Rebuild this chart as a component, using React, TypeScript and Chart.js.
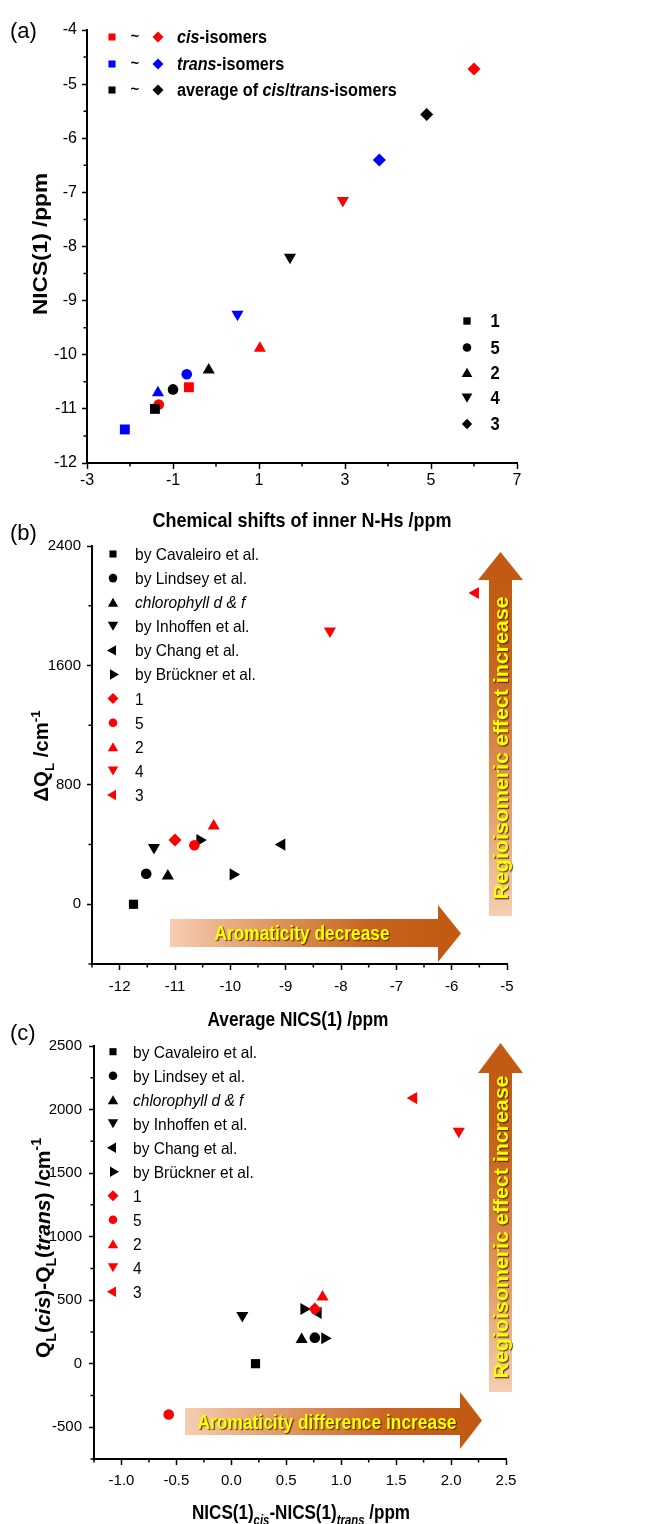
import React, { useEffect, useRef } from 'react';
import { Chart, registerables } from 'chart.js';

Chart.register(...registerables);

const FONT = '"Liberation Sans", Arial, Helvetica, sans-serif';
Chart.defaults.font.family = FONT;
Chart.defaults.color = '#000';
const W = 653;

// ---------------- Panel (a) data ----------------
const A_COMPOUNDS = ['1', '5', '2', '4', '3'];
const A_CIS_X = [-0.63, -1.33, 1.02, 2.95, 6.0];
const A_CIS_Y = [-10.6, -10.92, -9.88, -7.15, -4.72];
const A_TRANS_X = [-2.12, -0.68, -1.35, 0.5, 3.8];
const A_TRANS_Y = [-11.38, -10.36, -10.7, -9.25, -6.4];
const A_AVG_X = [-1.42, -1.0, -0.17, 1.72, 4.9];
const A_AVG_Y = [-11.0, -10.64, -10.28, -8.2, -5.56];
const A_X_TICKS = [-3, -1, 1, 3, 5, 7];
const A_X_MINOR = [-2, 0, 2, 4, 6];
const A_Y_TICKS = [-12, -11, -10, -9, -8, -7, -6, -5, -4];
const A_Y_MINOR = [-11.5, -10.5, -9.5, -8.5, -7.5, -6.5, -5.5, -4.5];

// ---------------- Panels (b) and (c) data ----------------
const GROUP_LABELS = [
  'by Cavaleiro et al.',
  'by Lindsey et al.',
  'chlorophyll d & f',
  'by Inhoffen et al.',
  'by Chang et al.',
  'by Brückner et al.',
  '1',
  '5',
  '2',
  '4',
  '3',
];
const B_X = [[-11.75], [-11.52], [-11.13], [-11.38], [-9.07], [-10.55, -9.95], [-11.0], [-10.65], [-10.3], [-8.2], [-5.57]];
const B_Y = [[0], [205], [190], [380], [400], [430, 200], [430], [395], [525], [1830], [2085]];
const C_X = [[0.22], [0.76], [0.64], [0.1], [0.79], [0.66, 0.85], [0.76], [-0.57], [0.83], [2.07], [1.66]];
const C_Y = [[0], [205], [190], [380], [400], [430, 200], [430], [-400], [525], [1830], [2090]];

const B_X_TICKS = [-12, -11, -10, -9, -8, -7, -6, -5];
const B_X_MINOR = [-12.5, -11.5, -10.5, -9.5, -8.5, -7.5, -6.5, -5.5];
const B_Y_TICKS = [0, 800, 1600, 2400];
const B_Y_MINOR = [-400, 400, 1200, 2000];
const C_X_TICKS = [-1, -0.5, 0, 0.5, 1, 1.5, 2, 2.5];
const C_X_MINOR = [-1.25, -0.75, -0.25, 0.25, 0.75, 1.25, 1.75, 2.25];
const C_Y_TICKS = [-500, 0, 500, 1000, 1500, 2000, 2500];
const C_Y_MINOR = [-750, -250, 250, 750, 1250, 1750, 2250];

// ---------------- styles ----------------
const RED = '#ff0000';
const BLUE = '#0000ff';
const BLACK = '#000000';
const A_SHAPES = ['rect', 'circle', 'triangle', 'triangle', 'rectRot'];
const A_ROT = [0, 0, 0, 180, 0];
const A_RADII = [7, 5.3, 7, 7, 6.5];

const G_SHAPES = ['rect', 'circle', 'triangle', 'triangle', 'triangle', 'triangle', 'rectRot', 'circle', 'triangle', 'triangle', 'triangle'];
const G_ROT = [0, 0, 0, 180, 270, 90, 0, 0, 0, 180, 270];
const G_COLORS = [BLACK, BLACK, BLACK, BLACK, BLACK, BLACK, RED, RED, RED, RED, RED];
const G_ITALIC = [false, false, true, false, false, false, false, false, false, false, false];
const DATA_R: any = { rect: 6.5, circle: 5.3, triangle: 7, rectRot: 6.5 };
const LEG_R: any = { rect: 5, circle: 4.3, triangle: 6, rectRot: 5.5 };

// ---------------- helpers ----------------
type Run = { t: string; i?: boolean; sub?: boolean; sup?: boolean };
type TextOpts = { bold?: boolean; rot?: number; len?: number; sx?: number; color?: string; align?: 'left' | 'center'; shadow?: boolean };

function drawText(ctx: CanvasRenderingContext2D, runs: Run[], cx: number, cy: number, size: number, o: TextOpts = {}) {
  const small = Math.round(size * 0.66);
  const font = (r: Run) => `${r.i ? 'italic ' : ''}${o.bold ? 'bold ' : ''}${r.sub || r.sup ? small : size}px ${FONT}`;
  ctx.save();
  const widths = runs.map((r) => {
    ctx.font = font(r);
    return ctx.measureText(r.t).width;
  });
  const total = widths.reduce((a, b) => a + b, 0);
  const sx = o.len ? o.len / total : o.sx || 1;
  ctx.translate(cx, cy);
  if (o.rot) ctx.rotate(o.rot);
  ctx.scale(sx, 1);
  ctx.textAlign = 'left';
  ctx.textBaseline = 'alphabetic';
  ctx.fillStyle = o.color || '#000';
  if (o.shadow) {
    ctx.shadowColor = 'rgba(70,35,0,0.85)';
    ctx.shadowOffsetX = 1.2;
    ctx.shadowOffsetY = 1.2;
    ctx.shadowBlur = 1;
  }
  let x = o.align === 'left' ? 0 : -total / 2;
  const base = size * 0.36;
  runs.forEach((r, k) => {
    ctx.font = font(r);
    const dy = r.sub ? size * 0.3 : r.sup ? -size * 0.42 : 0;
    ctx.fillText(r.t, x, base + dy);
    x += widths[k];
  });
  ctx.restore();
}

function drawMarker(ctx: CanvasRenderingContext2D, shape: string, x: number, y: number, r: number, rot: number, color: string) {
  ctx.save();
  ctx.fillStyle = color;
  ctx.beginPath();
  if (shape === 'rect') {
    const s = r * Math.SQRT1_2;
    ctx.rect(x - s, y - s, 2 * s, 2 * s);
  } else if (shape === 'circle') {
    ctx.arc(x, y, r, 0, Math.PI * 2);
  } else if (shape === 'rectRot') {
    ctx.moveTo(x - r, y);
    ctx.lineTo(x, y - r);
    ctx.lineTo(x + r, y);
    ctx.lineTo(x, y + r);
    ctx.closePath();
  } else {
    let a = (rot * Math.PI) / 180;
    ctx.moveTo(x + Math.sin(a) * r, y - Math.cos(a) * r);
    a += (2 * Math.PI) / 3;
    ctx.lineTo(x + Math.sin(a) * r, y - Math.cos(a) * r);
    a += (2 * Math.PI) / 3;
    ctx.lineTo(x + Math.sin(a) * r, y - Math.cos(a) * r);
    ctx.closePath();
  }
  ctx.fill();
  ctx.restore();
}

function drawMinor(chart: any, xs: number[], ys: number[], len: number) {
  const ctx = chart.ctx;
  const a = chart.chartArea;
  const sx = chart.scales.x;
  const sy = chart.scales.y;
  ctx.save();
  ctx.strokeStyle = '#000';
  ctx.lineWidth = 1.5;
  ctx.beginPath();
  xs.forEach((v) => {
    const px = sx.getPixelForValue(v);
    ctx.moveTo(px, a.bottom);
    ctx.lineTo(px, a.bottom + len);
  });
  ys.forEach((v) => {
    const py = sy.getPixelForValue(v);
    ctx.moveTo(a.left, py);
    ctx.lineTo(a.left - len, py);
  });
  ctx.stroke();
  ctx.restore();
}

function arrowGradient(g: CanvasGradient) {
  g.addColorStop(0, '#f6ceb2');
  g.addColorStop(0.4, '#df935c');
  g.addColorStop(0.75, '#c9631f');
  g.addColorStop(1, '#c35a13');
  return g;
}

function hArrow(ctx: CanvasRenderingContext2D, x0: number, x1: number, tip: number, bt: number, bb: number, ht: number, hb: number) {
  ctx.save();
  ctx.fillStyle = arrowGradient(ctx.createLinearGradient(x0, 0, x1, 0));
  ctx.beginPath();
  ctx.moveTo(x0, bt);
  ctx.lineTo(x1, bt);
  ctx.lineTo(x1, ht);
  ctx.lineTo(tip, (ht + hb) / 2);
  ctx.lineTo(x1, hb);
  ctx.lineTo(x1, bb);
  ctx.lineTo(x0, bb);
  ctx.closePath();
  ctx.fill();
  ctx.restore();
}

function vArrow(ctx: CanvasRenderingContext2D, y0: number, y1: number, tip: number, bl: number, br: number, hl: number, hr: number) {
  ctx.save();
  ctx.fillStyle = arrowGradient(ctx.createLinearGradient(0, y0, 0, y1));
  ctx.beginPath();
  ctx.moveTo(bl, y0);
  ctx.lineTo(bl, y1);
  ctx.lineTo(hl, y1);
  ctx.lineTo((hl + hr) / 2, tip);
  ctx.lineTo(hr, y1);
  ctx.lineTo(br, y1);
  ctx.lineTo(br, y0);
  ctx.closePath();
  ctx.fill();
  ctx.restore();
}

function makeChart(canvas: HTMLCanvasElement, p: any) {
  return new Chart(canvas, {
    type: 'scatter',
    data: { datasets: p.datasets },
    options: {
      responsive: false,
      animation: false,
      devicePixelRatio: 1,
      events: [],
      layout: { padding: { left: 0, right: W - p.right, top: p.top, bottom: 0 } },
      plugins: { legend: { display: false }, tooltip: { enabled: false }, title: { display: false } },
      scales: {
        x: {
          type: 'linear',
          position: 'bottom',
          min: p.xMin,
          max: p.xMax,
          afterBuildTicks: (s: any) => {
            s.ticks = p.xTicks.map((v: number) => ({ value: v }));
          },
          afterFit: (s: any) => {
            s.height = p.H - p.bottom;
          },
          ticks: {
            autoSkip: false,
            maxRotation: 0,
            padding: p.xPad,
            color: '#000',
            font: { family: FONT, size: p.tick },
            callback: p.xFmt,
          },
          grid: { display: true, drawOnChartArea: false, drawTicks: true, tickLength: 6, tickWidth: 1.5, tickColor: '#000' },
          border: { display: true, color: '#000', width: 2 },
        },
        y: {
          type: 'linear',
          position: 'left',
          min: p.yMin,
          max: p.yMax,
          afterBuildTicks: (s: any) => {
            s.ticks = p.yTicks.map((v: number) => ({ value: v }));
          },
          afterFit: (s: any) => {
            s.width = p.left;
          },
          ticks: {
            autoSkip: false,
            padding: p.yPad,
            color: '#000',
            font: { family: FONT, size: p.tick },
            callback: (v: number) => String(v),
          },
          grid: { display: true, drawOnChartArea: false, drawTicks: true, tickLength: 5, tickWidth: 1.5, tickColor: '#000' },
          border: { display: true, color: '#000', width: 2 },
        },
      },
    } as any,
    plugins: [{ id: 'extras', afterDraw: (c: any) => p.draw(c) }],
  } as any);
}

// ---------------- panel (a) ----------------
function aSet(label: string, xs: number[], ys: number[], color: string, order: number) {
  return {
    label,
    order,
    data: xs.map((x, i) => ({ x, y: ys[i] })),
    pointStyle: A_SHAPES,
    pointRotation: A_ROT,
    pointRadius: A_RADII,
    pointBackgroundColor: color,
    pointBorderColor: color,
    pointBorderWidth: 0,
    showLine: false,
  };
}

function drawA(chart: any) {
  const ctx = chart.ctx as CanvasRenderingContext2D;
  drawMinor(chart, A_X_MINOR, A_Y_MINOR, 3.5);
  drawText(ctx, [{ t: '(a)' }], 10, 30, 22, { align: 'left' });
  drawText(ctx, [{ t: 'NICS(1) /ppm' }], 40, 244, 20, { bold: true, rot: -Math.PI / 2, len: 142 });
  drawText(ctx, [{ t: 'Chemical shifts of inner N-Hs /ppm' }], 302, 519, 21, { bold: true, len: 299 });
  // top-left legend
  const rows: [string, Run[]][] = [
    [RED, [{ t: 'cis', i: true }, { t: '-isomers' }]],
    [BLUE, [{ t: 'trans', i: true }, { t: '-isomers' }]],
    [BLACK, [{ t: 'average of ' }, { t: 'cis', i: true }, { t: '/' }, { t: 'trans', i: true }, { t: '-isomers' }]],
  ];
  const ry = [37, 64, 90];
  rows.forEach(([col, runs], k) => {
    drawMarker(ctx, 'rect', 112, ry[k], 5, 0, col);
    drawText(ctx, [{ t: '~' }], 135, ry[k] - 1, 15, { bold: true });
    drawMarker(ctx, 'rectRot', 158, ry[k], 5.5, 0, col);
    drawText(ctx, runs, 177, ry[k], 18, { bold: true, align: 'left', sx: 0.9 });
  });
  // bottom-right legend (compound shapes)
  const by = [321, 347.5, 372.5, 398, 424];
  const lr = [5.2, 4.3, 6.2, 6.2, 5.2];
  A_COMPOUNDS.forEach((lab, k) => {
    drawMarker(ctx, A_SHAPES[k], 467, by[k] + (A_SHAPES[k] === 'triangle' ? (A_ROT[k] ? -1.5 : 1.5) : 0), lr[k], A_ROT[k], BLACK);
    drawText(ctx, [{ t: lab }], 495, by[k], 18, { bold: true, sx: 0.92 });
  });
}

// ---------------- panels (b), (c) ----------------
function gSets(xs: number[][], ys: number[][]) {
  return GROUP_LABELS.map((label, g) => ({
    label,
    order: G_COLORS[g] === RED ? 0 : 1,
    data: xs[g].map((x, i) => ({ x, y: ys[g][i] })),
    pointStyle: G_SHAPES[g],
    pointRotation: G_ROT[g],
    pointRadius: DATA_R[G_SHAPES[g]],
    pointBackgroundColor: G_COLORS[g],
    pointBorderColor: G_COLORS[g],
    pointBorderWidth: 0,
    showLine: false,
  }));
}

function drawGroupLegend(ctx: CanvasRenderingContext2D, y0: number, step: number, mx: number, tx: number) {
  GROUP_LABELS.forEach((lab, g) => {
    const y = y0 + g * step;
    const sh = G_SHAPES[g];
    let dy = 0;
    if (sh === 'triangle' && G_ROT[g] === 0) dy = 1.5;
    if (sh === 'triangle' && G_ROT[g] === 180) dy = -1.5;
    drawMarker(ctx, sh, mx, y + dy, LEG_R[sh], G_ROT[g], G_COLORS[g]);
    drawText(ctx, [{ t: lab, i: G_ITALIC[g] }], tx, y, 16.5, { align: 'left', sx: 0.94 });
  });
}

const TOP_B = 515;
const TOP_C = 1015;

function drawB(chart: any) {
  const ctx = chart.ctx as CanvasRenderingContext2D;
  const Y = (v: number) => v - TOP_B;
  drawMinor(chart, B_X_MINOR, B_Y_MINOR, 3.5);
  drawText(ctx, [{ t: '(b)' }], 10, Y(532), 22, { align: 'left' });
  drawText(ctx, [{ t: 'ΔQ' }, { t: 'L', sub: true }, { t: ' /cm' }, { t: '-1', sup: true }], 41, Y(756), 20, {
    bold: true,
    rot: -Math.PI / 2,
    len: 91,
  });
  drawText(ctx, [{ t: 'Average NICS(1) /ppm' }], 298, Y(1019), 20, { bold: true, len: 181 });
  drawGroupLegend(ctx, Y(554), 24.1, 113, 135);
  hArrow(ctx, 170, 438, 461, Y(919), Y(947), Y(905), Y(962));
  drawText(ctx, [{ t: 'Aromaticity decrease' }], 302, Y(933), 20, { bold: true, len: 175, color: '#ffff00', shadow: true });
  vArrow(ctx, Y(916), Y(580), Y(552), 489, 512, 478, 523);
  drawText(ctx, [{ t: 'Regioisomeric effect increase' }], 500.5, Y(748), 21, {
    bold: true,
    rot: -Math.PI / 2,
    len: 303,
    color: '#ffff00',
    shadow: true,
  });
}

function drawC(chart: any) {
  const ctx = chart.ctx as CanvasRenderingContext2D;
  const Y = (v: number) => v - TOP_C;
  drawMinor(chart, C_X_MINOR, C_Y_MINOR, 3.5);
  drawText(ctx, [{ t: '(c)' }], 10, Y(1032), 22, { align: 'left' });
  drawText(
    ctx,
    [
      { t: 'Q' },
      { t: 'L', sub: true },
      { t: '(' },
      { t: 'cis', i: true },
      { t: ')-Q' },
      { t: 'L', sub: true },
      { t: '(' },
      { t: 'trans', i: true },
      { t: ') /cm' },
      { t: '-1', sup: true },
    ],
    42,
    Y(1248),
    21,
    { bold: true, rot: -Math.PI / 2, len: 220 }
  );
  drawText(
    ctx,
    [{ t: 'NICS(1)' }, { t: 'cis', sub: true, i: true }, { t: '-NICS(1)' }, { t: 'trans', sub: true, i: true }, { t: ' /ppm' }],
    301,
    Y(1511),
    21,
    { bold: true, len: 218 }
  );
  drawGroupLegend(ctx, Y(1051.7), 24.0, 113, 133);
  hArrow(ctx, 185, 460, 482, Y(1408), Y(1435), Y(1392), Y(1449));
  drawText(ctx, [{ t: 'Aromaticity difference increase' }], 327, Y(1421.5), 20, {
    bold: true,
    len: 259,
    color: '#ffff00',
    shadow: true,
  });
  vArrow(ctx, Y(1392), Y(1073), Y(1043), 489, 512, 478, 523);
  drawText(ctx, [{ t: 'Regioisomeric effect increase' }], 500.5, Y(1227), 21, {
    bold: true,
    rot: -Math.PI / 2,
    len: 303,
    color: '#ffff00',
    shadow: true,
  });
}

export default function App() {
  const refA = useRef<HTMLCanvasElement>(null);
  const refB = useRef<HTMLCanvasElement>(null);
  const refC = useRef<HTMLCanvasElement>(null);

  useEffect(() => {
    const charts = [
      makeChart(refA.current!, {
        H: 540, left: 87, right: 517, top: 30, bottom: 463,
        xMin: -3, xMax: 7, yMin: -12, yMax: -4,
        xTicks: A_X_TICKS, yTicks: A_Y_TICKS,
        xFmt: (v: number) => String(v),
        tick: 16, xPad: 1.5, yPad: 5,
        datasets: [
          aSet('average of cis/trans-isomers', A_AVG_X, A_AVG_Y, BLACK, 0),
          aSet('trans-isomers', A_TRANS_X, A_TRANS_Y, BLUE, 1),
          aSet('cis-isomers', A_CIS_X, A_CIS_Y, RED, 2),
        ],
        draw: drawA,
      }),
      makeChart(refB.current!, {
        H: 520, left: 92, right: 507, top: 31, bottom: 449,
        xMin: -12.5, xMax: -5, yMin: -400, yMax: 2400,
        xTicks: B_X_TICKS, yTicks: B_Y_TICKS,
        xFmt: (v: number) => String(v),
        tick: 15, xPad: 7.5, yPad: 6,
        datasets: gSets(B_X, B_Y),
        draw: drawB,
      }),
      makeChart(refC.current!, {
        H: 509, left: 94, right: 506, top: 31, bottom: 444,
        xMin: -1.25, xMax: 2.5, yMin: -750, yMax: 2500,
        xTicks: C_X_TICKS, yTicks: C_Y_TICKS,
        xFmt: (v: number) => v.toFixed(1),
        tick: 15, xPad: 7, yPad: 7,
        datasets: gSets(C_X, C_Y),
        draw: drawC,
      }),
    ];
    return () => charts.forEach((c) => c.destroy());
  }, []);

  const cs = (top: number, h: number): React.CSSProperties => ({ position: 'absolute', left: 0, top, width: W, height: h });
  return (
    <div style={{ position: 'absolute', left: 0, top: 0, width: W, height: 1524, background: '#fff', overflow: 'hidden' }}>
      <canvas ref={refA} width={W} height={540} style={cs(0, 540)} />
      <canvas ref={refB} width={W} height={520} style={cs(TOP_B, 520)} />
      <canvas ref={refC} width={W} height={509} style={cs(TOP_C, 509)} />
    </div>
  );
}
